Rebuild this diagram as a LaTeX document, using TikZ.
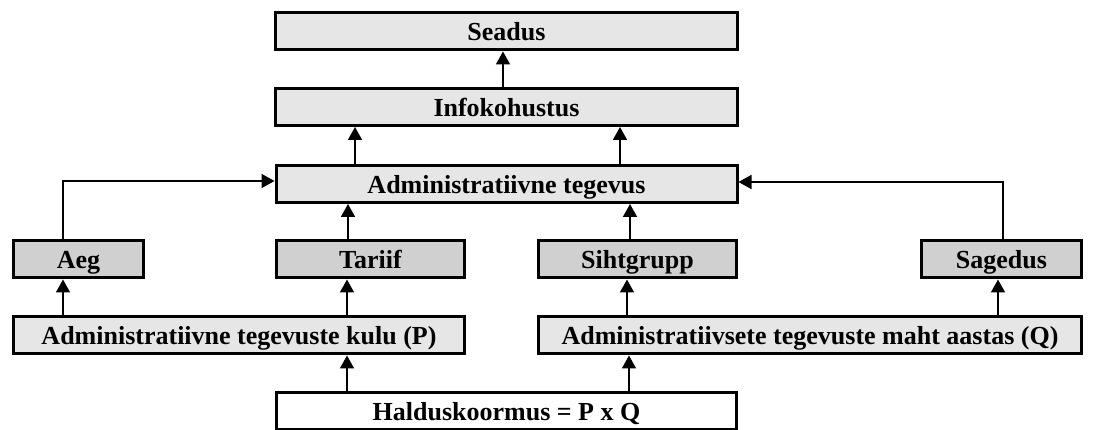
\documentclass[tikz,border=0pt]{standalone}
\usepackage{fontspec}
\setmainfont{Liberation Serif}
\usepackage{tikz}
\usepackage{xcolor}
\usetikzlibrary{arrows.meta,positioning}
\definecolor{boxLight}{RGB}{230,230,230}
\definecolor{boxDark}{RGB}{208,208,208}

\begin{document}
\begin{tikzpicture}[
            x=1pt, y=-1pt,
            box/.style={rectangle, draw, line width=3pt, minimum height=37pt, inner sep=0pt, text height=22pt, text depth=3pt, align=center, font=\bfseries\fontsize{26}{30}\selectfont},
            lite/.style={box, fill=boxLight},
            dark/.style={box, fill=boxDark},
            arrow/.style={-{Triangle[length=13pt,width=14pt]}, line width=1.6pt}
        ]
            \useasboundingbox (0,0) rectangle (1093,430);
            % top column
            \node[lite, minimum width=462pt] (seadus) at (506.5,31.5) {Seadus};
            \node[lite, minimum width=462pt] (info) at (506.5,107) {Infokohustus};
            \node[lite, minimum width=461pt] (admin) at (506.5,184) {Administratiivne tegevus};
            % factors
            \node[dark, minimum width=130pt] (aeg) at (78.5,259.5) {Aeg};
            \node[dark, minimum width=188pt] (tariif) at (370.5,259.5) {Tariif};
            \node[dark, minimum width=198pt] (siht) at (637.5,259.5) {Sihtgrupp};
            \node[dark, minimum width=160pt] (sagedus) at (1001.5,259.5) {Sagedus};
            % P and Q
            \node[lite, minimum width=451pt] (kulu) at (239,335.5) {Administratiivne tegevuste kulu (P)};
            \node[lite, minimum width=543pt] (maht) at (810,335.5) {Administratiivsete tegevuste maht aastas (Q)};
            \node[box, fill=white, minimum width=460pt] (hk) at (506.5,411) {Halduskoormus = P x Q};
            
            \draw[arrow] (info.north -| 503,0) -- (seadus.south -| 503,0);
            \draw[arrow] (admin.north -| 355,0) -- (info.south -| 355,0);
            \draw[arrow] (admin.north -| 620,0) -- (info.south -| 620,0);
            \draw[arrow] (aeg.north -| 63,0) |- (admin.west |- 0,181);
            \draw[arrow] (tariif.north -| 348,0) -- (admin.south -| 348,0);
            \draw[arrow] (siht.north -| 630,0) -- (admin.south -| 630,0);
            \draw[arrow] (sagedus.north -| 1003,0) |- (admin.east |- 0,182);
            \draw[arrow] (kulu.north -| 63,0) -- (aeg.south -| 63,0);
            \draw[arrow] (kulu.north -| 347,0) -- (tariif.south -| 347,0);
            \draw[arrow] (maht.north -| 627,0) -- (siht.south -| 627,0);
            \draw[arrow] (maht.north -| 998,0) -- (sagedus.south -| 998,0);
            \draw[arrow] (hk.north -| 347,0) -- (kulu.south -| 347,0);
            \draw[arrow] (hk.north -| 629,0) -- (maht.south -| 629,0);
        \end{tikzpicture}
\end{document}
